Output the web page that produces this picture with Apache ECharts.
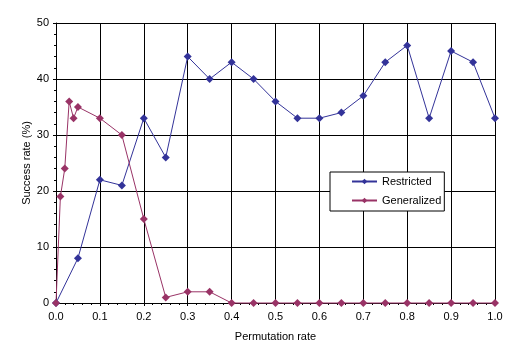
<!DOCTYPE html>
<html><head><meta charset="utf-8">
<script src="https://cdn.jsdelivr.net/npm/echarts@6/dist/echarts.min.js"></script>
<style>html,body{margin:0;padding:0;background:#fff}#c{width:514px;height:361px}</style>
</head><body><div id="c"></div>
<script>
const restrictedX = [0,0.05,0.1,0.15,0.2,0.25,0.3,0.35,0.4,0.45,0.5,0.55,0.6,0.65,0.7,0.75,0.8,0.85,0.9,0.95,1.0];
const restrictedY = [0,8,22,21,33,26,44,40,43,40,36,33,33,34,37,43,46,33,45,43,33];
const generalizedX = [0,0.01,0.02,0.03,0.04,0.05,0.1,0.15,0.2,0.25,0.3,0.35,0.4,0.45,0.5,0.55,0.6,0.65,0.7,0.75,0.8,0.85,0.9,0.95,1.0];
const generalizedY = [0,19,24,36,33,35,33,30,15,1,2,2,0,0,0,0,0,0,0,0,0,0,0,0,0];
const seriesNames = ['Restricted','Generalized'];
const xTitle = 'Permutation rate';
const yTitle = 'Success rate (%)';

const font = 'Liberation Sans, Arial, sans-serif';
const pair = (xs, ys) => xs.map((x, i) => [x, ys[i]]);
const chart = echarts.init(document.getElementById('c'), null, {renderer: 'canvas'});
chart.setOption({
  animation: false,
  backgroundColor: '#fff',
  grid: {left: 56, right: 19, top: 23, bottom: 58},
  legend: {
    data: seriesNames, orient: 'vertical', left: 330, top: 172,
    backgroundColor: '#fff', borderColor: '#000', borderWidth: 1,
    padding: [3, 3, 4, 21], itemGap: 6, itemWidth: 25, itemHeight: 7,
    textStyle: {fontFamily: font, fontSize: 11, color: '#000', lineHeight: 13}
  },
  xAxis: {
    type: 'value', min: 0, max: 1, interval: 0.1,
    name: xTitle, nameLocation: 'middle', nameGap: 28, nameMoveOverlap: false,
    nameTextStyle: {fontFamily: font, fontSize: 11, color: '#000'},
    axisLine: {lineStyle: {color: '#000', width: 1}},
    axisTick: {show: true, length: 3, lineStyle: {color: '#000'}},
    minorTick: {show: true, splitNumber: 5, length: 2, lineStyle: {color: '#000'}},
    splitLine: {show: true, lineStyle: {color: '#000', width: 1}},
    axisLabel: {fontFamily: font, fontSize: 11, color: '#000', margin: 8, formatter: v => v.toFixed(1)}
  },
  yAxis: {
    type: 'value', min: 0, max: 50, interval: 10,
    name: yTitle, nameLocation: 'middle', nameGap: 24, nameRotate: 90, nameMoveOverlap: false,
    nameTextStyle: {fontFamily: font, fontSize: 11, color: '#000'},
    axisLine: {show: true, lineStyle: {color: '#000', width: 1}},
    axisTick: {show: true, length: 3, lineStyle: {color: '#000'}},
    minorTick: {show: true, splitNumber: 5, length: 2, lineStyle: {color: '#000'}},
    splitLine: {show: true, lineStyle: {color: '#000', width: 1}},
    axisLabel: {fontFamily: font, fontSize: 11, color: '#000', margin: 7}
  },
  series: [
    {name: seriesNames[0], type: 'line', data: pair(restrictedX, restrictedY),
     symbol: 'diamond', symbolSize: 8, clip: false,
     itemStyle: {color: '#333399'}, lineStyle: {color: '#333399', width: 1}},
    {name: seriesNames[1], type: 'line', data: pair(generalizedX, generalizedY),
     symbol: 'diamond', symbolSize: 8, clip: false,
     itemStyle: {color: '#993366'}, lineStyle: {color: '#993366', width: 1}}
  ]
});
</script></body></html>
